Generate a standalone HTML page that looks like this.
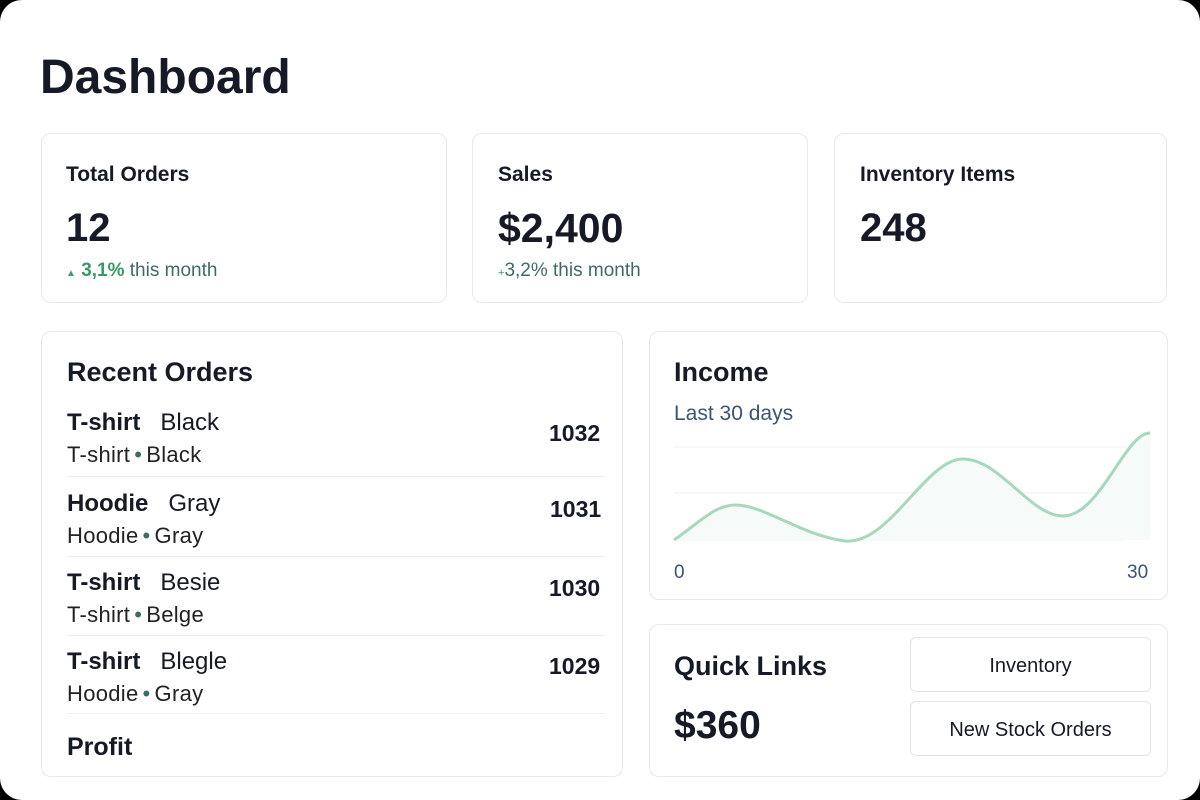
<!DOCTYPE html>
<html><head><meta charset="utf-8"><style>
html,body{margin:0;padding:0;background:#000;}
#p{position:relative;width:1200px;height:800px;background:#fff;border-radius:22px;overflow:hidden;font-family:"Liberation Sans",sans-serif;color:#161a26;}
.a{position:absolute;line-height:1;white-space:nowrap;}
.c{position:absolute;border:1px solid #e6e8ec;border-radius:10px;background:#fff;box-sizing:border-box;}
.b{font-weight:bold;}
.sep{position:absolute;height:1px;background:#eef0f2;left:67px;width:538px;}
.btn{position:absolute;border:1px solid #e2e4e8;border-radius:6px;box-sizing:border-box;text-align:center;font-size:20px;}
.s2{font-size:22px;color:#222;letter-spacing:0.3px}
.d{color:#3f6b66;margin:0 4px}
</style></head><body><div id="p">
<div class="a b" style="left:40px;top:54px;font-size:48px">Dashboard</div>

<div class="c" style="left:41px;top:133px;width:406px;height:170px"></div>
<div class="c" style="left:472px;top:133px;width:336px;height:170px"></div>
<div class="c" style="left:834px;top:133px;width:333px;height:170px"></div>

<div class="a b" style="left:66px;top:164px;font-size:21px">Total Orders</div>
<div class="a b" style="left:66px;top:208px;font-size:40px">12</div>
<div class="a" style="left:66px;top:261px;font-size:19px;color:#3f6b66"><span style="color:#3fa06a;font-size:10px">▲</span> <b style="color:#3a9a66">3,1%</b> this month</div>

<div class="a b" style="left:498px;top:164px;font-size:21px">Sales</div>
<div class="a b" style="left:498px;top:208px;font-size:41px">$2,400</div>
<div class="a" style="left:498px;top:261px;font-size:19px;color:#3f6b66"><span style="color:#3fa06a;font-size:11px">+</span>3,2% this month</div>

<div class="a b" style="left:860px;top:164px;font-size:21px">Inventory Items</div>
<div class="a b" style="left:860px;top:208px;font-size:40px">248</div>

<div class="c" style="left:41px;top:331px;width:582px;height:446px"></div>
<div class="a b" style="left:67px;top:359px;font-size:27px">Recent Orders</div>

<div class="a" style="left:67px;top:411px;font-size:24px"><b>T-shirt</b>&nbsp;&nbsp; Black</div>
<div class="a s2" style="left:67px;top:444px">T-shirt<span class="d">•</span>Black</div>
<div class="a b" style="left:549px;top:422px;font-size:23px">1032</div>
<div class="sep" style="top:476px"></div>

<div class="a" style="left:67px;top:492px;font-size:24px"><b>Hoodie</b>&nbsp;&nbsp; Gray</div>
<div class="a s2" style="left:67px;top:525px">Hoodie<span class="d">•</span>Gray</div>
<div class="a b" style="left:550px;top:498px;font-size:23px">1031</div>
<div class="sep" style="top:556px"></div>

<div class="a" style="left:67px;top:571px;font-size:24px"><b>T-shirt</b>&nbsp;&nbsp; Besie</div>
<div class="a s2" style="left:67px;top:604px">T-shirt<span class="d">•</span>Belge</div>
<div class="a b" style="left:549px;top:577px;font-size:23px">1030</div>
<div class="sep" style="top:635px"></div>

<div class="a" style="left:67px;top:650px;font-size:24px"><b>T-shirt</b>&nbsp;&nbsp; Blegle</div>
<div class="a s2" style="left:67px;top:683px">Hoodie<span class="d">•</span>Gray</div>
<div class="a b" style="left:549px;top:655px;font-size:23px">1029</div>
<div class="sep" style="top:713px"></div>

<div class="a b" style="left:67px;top:735px;font-size:25px">Profit</div>

<div class="c" style="left:649px;top:331px;width:519px;height:269px"></div>
<div class="a b" style="left:674px;top:359px;font-size:27px">Income</div>
<div class="a" style="left:674px;top:403px;font-size:21px;color:#3b5573">Last 30 days</div>
<svg style="position:absolute;left:0;top:0" width="1200" height="800">
<g stroke="#f0f2f4" stroke-width="1"><line x1="674" y1="447" x2="1150" y2="447"/><line x1="674" y1="493" x2="1150" y2="493"/><line x1="674" y1="540" x2="1125" y2="540"/></g>
<path d="M674,540 C700,522 715,505 735,505 C765,505 800,535 845,541 C890,545 925,459 963,459 C1000,459 1030,516 1063,516 C1100,516 1125,433 1150,433 L1150,540 L674,540Z" fill="#f6faf8"/>
<path d="M674,540 C700,522 715,505 735,505 C765,505 800,535 845,541 C890,545 925,459 963,459 C1000,459 1030,516 1063,516 C1100,516 1125,433 1150,433" fill="none" stroke="#a6d8bd" stroke-width="3"/>
</svg>
<div class="a" style="left:674px;top:563px;font-size:19px;color:#3b5573">0</div>
<div class="a" style="left:1127px;top:563px;font-size:19px;color:#3b5573">30</div>

<div class="c" style="left:649px;top:624px;width:519px;height:153px"></div>
<div class="a b" style="left:674px;top:653px;font-size:27px">Quick Links</div>
<div class="a b" style="left:674px;top:706px;font-size:39px">$360</div>
<div class="btn" style="left:910px;top:637px;width:241px;height:55px;line-height:57px">Inventory</div>
<div class="btn" style="left:910px;top:701px;width:241px;height:55px;line-height:57px">New Stock Orders</div>
</div></body></html>
